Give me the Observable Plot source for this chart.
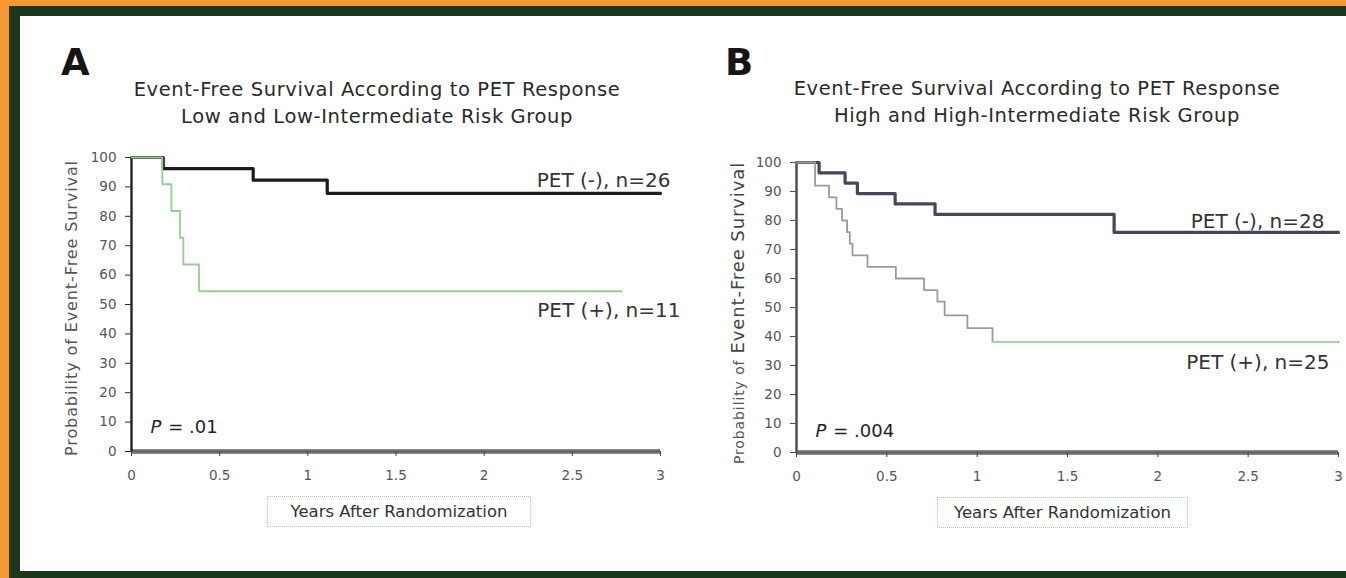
<!DOCTYPE html>
<html><head><meta charset="utf-8">
<script src="https://cdn.jsdelivr.net/npm/d3@7"></script>
<script src="https://cdn.jsdelivr.net/npm/@observablehq/plot@0.6"></script>
<style>
html,body{margin:0;padding:0;overflow:hidden;}
body{width:1346px;height:578px;background:#f4982f;position:relative;font-family:"DejaVu Sans",sans-serif;}
#frame{position:absolute;left:9px;top:6px;width:1400px;height:600px;background:#1a361b;}
#paper{position:absolute;left:20px;top:16px;width:1400px;height:555px;background:#fff;}
.abs{position:absolute;}
.letter{font-weight:bold;font-size:37px;color:#151515;line-height:36px;letter-spacing:1px;}
.title{font-size:19.5px;color:#2a2a2a;letter-spacing:0.6px;text-align:center;white-space:nowrap;line-height:27px;}
.ytitle{font-size:16px;color:#555;letter-spacing:0.9px;white-space:nowrap;text-align:center;transform:rotate(-90deg);line-height:20px;}
.xtitle{font-size:16.5px;color:#333;white-space:nowrap;text-align:center;border:1.5px dotted #a8d2a8;box-sizing:border-box;line-height:29px;}
.panel svg{overflow:visible;}
</style>
</head><body>
<div id="frame"></div>
<div id="paper"></div>

<div class="abs letter" style="left:61px;top:45px;">A</div>
<div class="abs letter" style="left:725px;top:45px;">B</div>

<div class="abs title" id="titleA" style="left:107px;width:540px;top:76px;"></div>
<div class="abs title" id="titleB" style="left:767px;width:540px;top:75px;"></div>

<div class="abs ytitle" id="ytitleA" style="left:-88px;top:298px;width:320px;height:20px;"></div>
<div class="abs ytitle" id="ytitleB" style="left:578px;top:303px;width:320px;height:20px;"></div>

<div class="abs xtitle" id="xtitleA" style="left:267px;top:496px;width:264px;height:31px;"></div>
<div class="abs xtitle" id="xtitleB" style="left:937px;top:497px;width:251px;height:31px;"></div>

<div class="abs panel" id="panelA" style="left:20px;top:140px;"></div>
<div class="abs panel" id="panelB" style="left:700px;top:140px;"></div>

<script>
// ---------- data ----------
const years = [0, 0.5, 1, 1.5, 2, 2.5, 3];
const yearLabels = ["0", "0.5", "1", "1.5", "2", "2.5", "3"];
const pctTicks = [0, 10, 20, 30, 40, 50, 60, 70, 80, 90, 100];

const titlesA = ["Event-Free Survival According to PET Response", "Low and Low-Intermediate Risk Group"];
const titlesB = ["Event-Free Survival According to PET Response", "High and High-Intermediate Risk Group"];
const yTitle = ["Probability of", "Event-Free Survival"];
const xTitle = "Years After Randomization";

// Panel A: low / low-intermediate risk
const aNegTime = [0, 0.18, 0.69, 1.11, 3.0];
const aNegSurv = [100, 96.2, 92.3, 87.8, 87.8];
const aPosTime = [0, 0.175, 0.226, 0.275, 0.294, 0.383, 2.78];
const aPosSurv = [100, 90.9, 81.8, 72.7, 63.6, 54.5, 54.5];
const aLabels = ["PET (-), n=26", "PET (+), n=11"];
const aPValue = "P = .01";

// Panel B: high / high-intermediate risk
const bNegTime = [0, 0.125, 0.269, 0.337, 0.546, 0.767, 1.758, 3.0];
const bNegSurv = [100, 96.4, 92.9, 89.3, 85.7, 82.1, 75.9, 75.9];
const bPosTime = [0, 0.103, 0.18, 0.221, 0.252, 0.28, 0.295, 0.31, 0.393, 0.55, 0.706, 0.78, 0.82, 0.946, 1.085, 3.0];
const bPosSurv = [100, 92, 88, 84, 80, 76, 72, 68, 64, 60, 56, 52, 47.3, 42.9, 38.1, 38.1];
const bLabels = ["PET (-), n=28", "PET (+), n=25"];
const bPValue = "P = .004";

// ---------- text ----------
document.getElementById("titleA").innerHTML = titlesA.join("<br>");
document.getElementById("titleB").innerHTML = titlesB.join("<br>");
document.getElementById("ytitleA").textContent = yTitle.join(" ");
document.getElementById("ytitleB").innerHTML =
  `<span style="font-size:14px">${yTitle[0]}</span> <span style="font-size:18px;color:#444">${yTitle[1]}</span>`;
document.getElementById("xtitleA").textContent = xTitle;
document.getElementById("xtitleB").textContent = xTitle;

const toRows = (t, s) => t.map((x, i) => ({t: x, s: s[i]}));
const fmtYear = d => yearLabels[years.indexOf(d)];

function panel(cfg) {
  const neg = toRows(cfg.negT, cfg.negS);
  const pos = toRows(cfg.posT, cfg.posS);
  const xMax = years[years.length - 1];
  const marks = [
    Plot.ruleY([0], {stroke: "#8a8a8a", strokeWidth: 5}),
    Plot.ruleY([0], {stroke: "#5e5e5e", strokeWidth: 2}),
    Plot.ruleX([0], {stroke: cfg.yAxisColor, strokeWidth: 2.5}),
    Plot.axisX({ticks: years, tickFormat: fmtYear, tickSize: 5, tickPadding: 14, label: null, stroke: "#444", fill: "#555", fontSize: 14}),
    Plot.axisY({ticks: pctTicks, tickSize: 6, tickPadding: 9, label: null, stroke: cfg.yAxisColor, fill: "#555", fontSize: 14}),
    Plot.line(neg, {x: "t", y: "s", curve: "step-after", stroke: cfg.negColor, strokeWidth: 3.2}),
    Plot.line(pos, {x: "t", y: "s", curve: "step-after", stroke: cfg.posColor, strokeWidth: 1.8}),
  ];
  if (cfg.tailColor) {
    marks.push(Plot.line(pos.filter(d => d.s === cfg.posS[cfg.posS.length - 1]),
      {x: "t", y: "s", stroke: cfg.tailColor, strokeWidth: 2, strokeDasharray: "3,1.5"}));
  }
  marks.push(
    Plot.text([cfg.labels[0]], {x: () => xMax, y: () => cfg.negS[cfg.negS.length - 1], text: d => d,
      textAnchor: "end", dx: cfg.negDx, dy: cfg.negDy, fontSize: 20, fill: "#333"}),
    Plot.text([cfg.labels[1]], {x: () => xMax, y: () => cfg.posS[cfg.posS.length - 1], text: d => d,
      textAnchor: "end", dx: cfg.posDx, dy: cfg.posDy, fontSize: 20, fill: "#333"}),
    Plot.text([cfg.pValue], {frameAnchor: "bottom-left", text: d => d.slice(0, 1), textAnchor: "start",
      dx: 19, dy: cfg.pDy, fontSize: 18, fontStyle: "italic", fill: "#222"}),
    Plot.text([cfg.pValue], {frameAnchor: "bottom-left", text: d => d.slice(1), textAnchor: "start",
      dx: 31, dy: cfg.pDy, fontSize: 18, fill: "#222"})
  );
  const svg = Plot.plot({
    width: cfg.width, height: 400,
    marginLeft: cfg.ml, marginRight: cfg.mr, marginTop: cfg.mt, marginBottom: cfg.mb,
    x: {domain: [0, 3]},
    y: {domain: [0, 100]},
    style: {fontFamily: "DejaVu Sans, sans-serif", fontSize: "14px", color: "#555", background: "transparent"},
    marks
  });
  d3.select(svg).selectAll("[aria-label*='axis']").style("font-size", "13.5px");
  d3.select(svg).selectAll("[aria-label*='axis'] text").style("font-size", "13.5px");
  return svg;
}

document.getElementById("panelA").append(panel({
  width: 680, ml: 111, mr: 40, mt: 17, mb: 89,
  negT: aNegTime, negS: aNegSurv, posT: aPosTime, posS: aPosSurv,
  negColor: "#1c1c1c", posColor: "#93cf93", yAxisColor: "#2a2a2a",
  labels: aLabels, negDx: 10, negDy: -13, posDx: 20, posDy: 19,
  pValue: aPValue, pDy: -19
}));

document.getElementById("panelB").append(panel({
  width: 646, ml: 96, mr: 8, mt: 22, mb: 88,
  negT: bNegTime, negS: bNegSurv, posT: bPosTime, posS: bPosSurv,
  negColor: "#44465c", posColor: "#9b9b9b", tailColor: "#a6d8a6", yAxisColor: "#4a4c66",
  labels: bLabels, negDx: -14, negDy: -11, posDx: -9, posDy: 21,
  pValue: bPValue, pDy: -16
}));
</script>
</body></html>
